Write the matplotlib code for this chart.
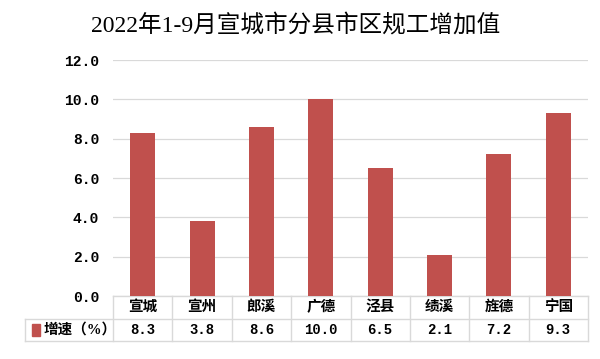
import matplotlib
import matplotlib.pyplot as plt
from matplotlib.patches import Rectangle
from matplotlib.transforms import blended_transform_factory

matplotlib.use('Agg')
plt.rcParams['font.family'] = ['Liberation Serif', 'Noto Sans CJK SC']

title = '2022年1-9月宣城市分县市区规工增加值'
regions = ['宣城', '宣州', '郎溪', '广德', '泾县', '绩溪', '旌德', '宁国']
growth = [8.3, 3.8, 8.6, 10.0, 6.5, 2.1, 7.2, 9.3]
series_name = '增速（%）'
y_ticks = [0, 2, 4, 6, 8, 10, 12]

bar_color = '#C0504D'
grid_color = '#D9D9D9'
num_font = ['Liberation Mono', 'DejaVu Sans Mono']

fig = plt.figure(figsize=(6, 3.59), dpi=100)
ax = fig.add_axes([113 / 600, 1 - 296 / 359, 475 / 600, 236 / 359])

x = list(range(len(regions)))
ax.bar(x, growth, width=0.42, color=bar_color, zorder=3)
ax.set_xlim(-0.5, len(regions) - 0.5)
ax.set_ylim(0, 12)
ax.set_yticks(y_ticks)
ax.set_yticklabels(['%.1f' % v for v in y_ticks], fontsize=10.5, fontweight='bold',
                   family=num_font)
ax.tick_params(axis='y', length=0, pad=10)
ax.set_xticks([])
ax.grid(axis='y', color=grid_color, lw=0.9, zorder=0)
for s in ax.spines.values():
    s.set_visible(False)

# data table under the plot
tr = blended_transform_factory(ax.transData, ax.transAxes)
row_h = 22.5 / 236
label_left = -0.5 - (113 - 25) / (475 / 8)
line_kw = dict(color=grid_color, lw=1.0, clip_on=False, zorder=1)
ax.plot([-0.5, 7.5], [0, 0], transform=tr, **line_kw)
ax.plot([label_left, 7.5], [-row_h, -row_h], transform=tr, **line_kw)
ax.plot([label_left, 7.5], [-2 * row_h, -2 * row_h], transform=tr, **line_kw)
for xv in [k - 0.5 for k in range(len(regions) + 1)]:
    ax.plot([xv, xv], [0, -2 * row_h], transform=tr, **line_kw)
ax.plot([label_left, label_left], [-row_h, -2 * row_h], transform=tr, **line_kw)

for xi, name, val in zip(x, regions, growth):
    ax.text(xi, -row_h / 2, name, transform=tr, ha='center', va='center',
            fontsize=10.5, fontweight='bold')
    ax.text(xi, -1.5 * row_h, '%.1f' % val, transform=tr, ha='center', va='center',
            fontsize=10, fontweight='bold', family=num_font)

sq_x = label_left + 0.12
ax.add_patch(Rectangle((sq_x, -1.5 * row_h - 0.025), 0.14, 0.05, transform=tr,
                       color=bar_color, clip_on=False))
ax.text(sq_x + 0.2, -1.5 * row_h, series_name, transform=tr, ha='left', va='center',
        fontsize=10.5, fontweight='bold')

fig.text(296 / 600, 1 - 25 / 359, title, ha='center', va='center', fontsize=17)

fig.savefig('out.png', dpi=100)
